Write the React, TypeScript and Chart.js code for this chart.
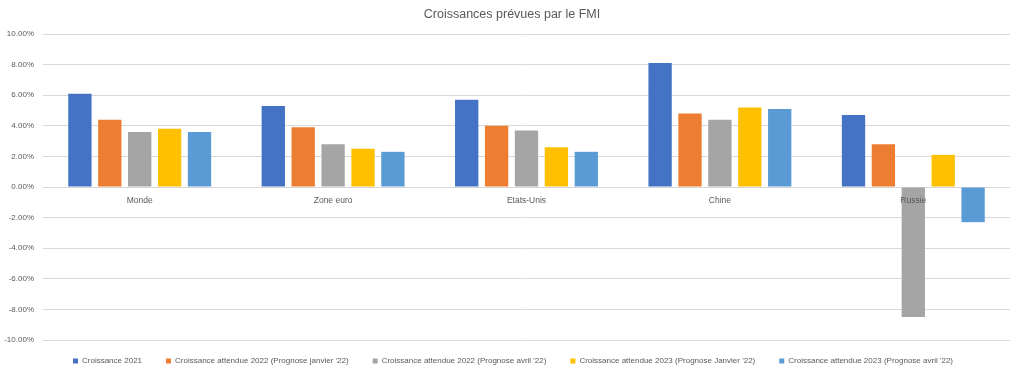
import React, { useEffect, useRef } from "react";
import { Chart, registerables } from "chart.js";

Chart.register(...registerables);

const categories = ["Monde", "Zone euro", "Etats-Unis", "Chine", "Russie"];
const seriesLabels = [
  "Croissance 2021",
  "Croissance attendue 2022 (Prognose janvier '22)",
  "Croissance attendue 2022 (Prognose avril '22)",
  "Croissance attendue 2023 (Prognose Janvier '22)",
  "Croissance attendue 2023 (Prognose avril '22)",
];
const growth2021 = [6.1, 5.3, 5.7, 8.1, 4.7];
const growth2022Jan = [4.4, 3.9, 4.0, 4.8, 2.8];
const growth2022Apr = [3.6, 2.8, 3.7, 4.4, -8.5];
const growth2023Jan = [3.8, 2.5, 2.6, 5.2, 2.1];
const growth2023Apr = [3.6, 2.3, 2.3, 5.1, -2.3];
const seriesColors = ["#4472C4", "#ED7D31", "#A5A5A5", "#FFC000", "#5B9BD5"];
const yTicks = [-10, -8, -6, -4, -2, 0, 2, 4, 6, 8, 10];

const FONT = "'Liberation Sans', Arial, sans-serif";

const layoutTweakPlugin = {
  id: "layoutTweak",
  beforeLayout(chart: any) {
    const lg = chart.legend;
    if (lg && !lg._patched) {
      const orig = lg.fit.bind(lg);
      lg.fit = function () {
        orig();
        this.height = 33;
      };
      lg._patched = true;
    }
  },
  afterLayout(chart: any) {
    const lg = chart.legend;
    if (lg) {
      lg.top -= 7;
      lg.bottom -= 7;
      lg.left += 8;
      lg.right += 8;
    }
    const tb = chart.titleBlock;
    if (tb) {
      tb.left += 7;
      tb.right += 7;
    }
  },
};

export default function App() {
  const ref = useRef<HTMLCanvasElement | null>(null);
  useEffect(() => {
    document.body.style.margin = "0";
    const values = [growth2021, growth2022Jan, growth2022Apr, growth2023Jan, growth2023Apr];
    const chart = new Chart(ref.current as HTMLCanvasElement, {
      type: "bar",
      data: {
        labels: categories,
        datasets: values.map((v, i) => ({
          label: seriesLabels[i],
          data: v,
          backgroundColor: seriesColors[i],
          borderWidth: 0,
          categoryPercentage: 0.773,
          barPercentage: 0.78,
        })),
      },
      plugins: [layoutTweakPlugin],
      options: {
        animation: false,
        responsive: false,
        maintainAspectRatio: false,
        layout: { padding: { left: 0, right: 14, top: 0, bottom: 0 } },
        plugins: {
          title: {
            display: true,
            text: "Croissances prévues par le FMI",
            color: "#595959",
            font: { family: FONT, size: 12.5, weight: "normal" },
            padding: { top: 7.5, bottom: 11.5 },
          },
          legend: {
            position: "bottom",
            labels: {
              color: "#595959",
              font: { family: FONT, size: 8 },
              boxWidth: 5,
              boxHeight: 5,
              padding: 24,
            },
          },
          tooltip: { enabled: false },
        },
        scales: {
          x: {
            position: { y: 0 } as any,
            grid: { display: false, drawTicks: false },
            border: { display: false },
            ticks: {
              z: 1,
              color: "#595959",
              font: { family: FONT, size: 8.5 },
              padding: 8.5,
              maxRotation: 0,
            },
          },
          y: {
            min: -10,
            max: 10,
            afterBuildTicks: (axis: any) => {
              axis.ticks = yTicks.map((v) => ({ value: v }));
            },
            afterFit: (axis: any) => {
              axis.width = 43;
            },
            grid: { color: "#D9D9D9", lineWidth: 1, drawTicks: false },
            border: { display: false },
            ticks: {
              color: "#595959",
              font: { family: FONT, size: 8 },
              padding: 9,
              callback: (v: any) => Number(v).toFixed(2) + "%",
            },
          },
        },
      },
    });
    return () => chart.destroy();
  }, []);
  return <canvas ref={ref} width={1024} height={373} style={{ display: "block" }} />;
}
